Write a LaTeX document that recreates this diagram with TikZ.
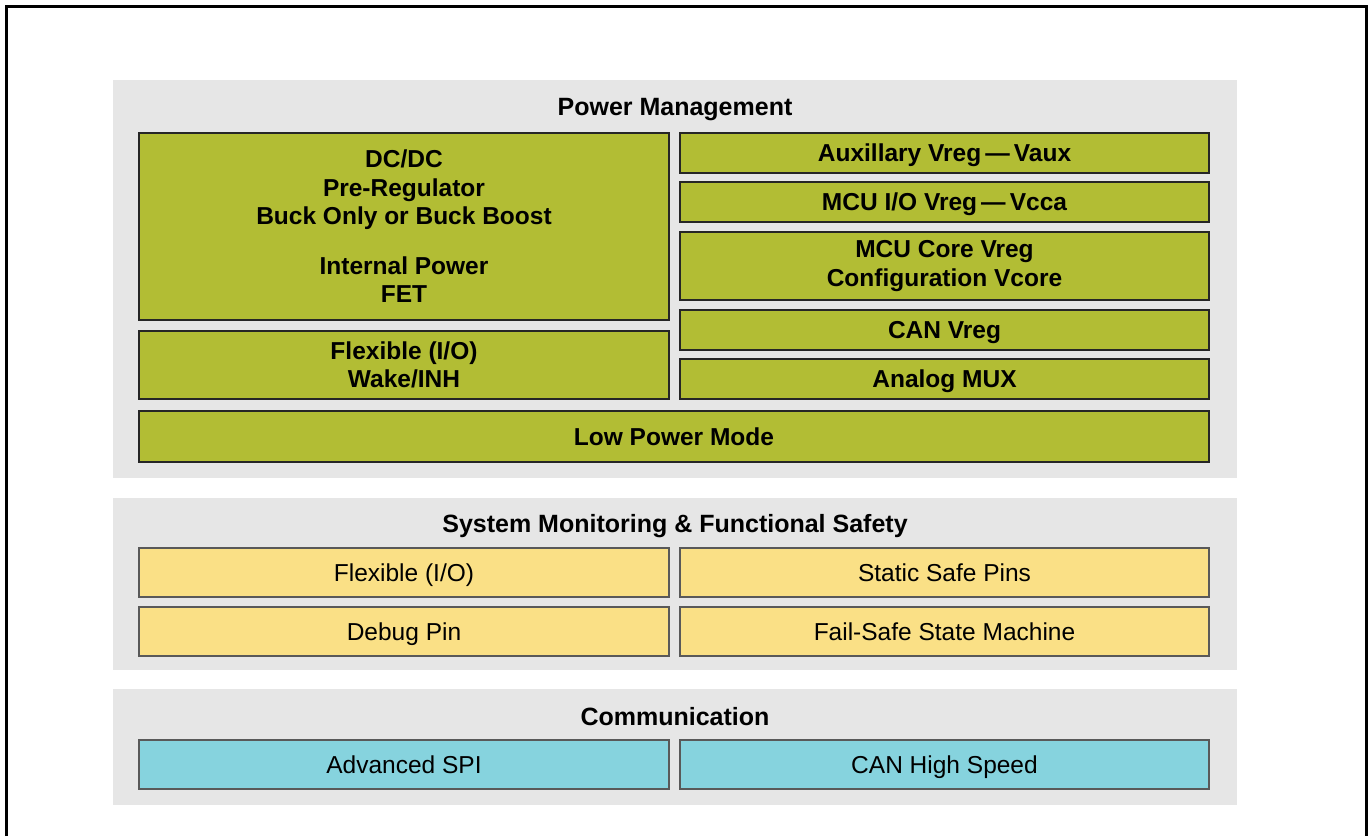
\documentclass[tikz,border=0pt]{standalone}
\usepackage{fontspec}
\setmainfont{Liberation Sans}
\definecolor{pmgreen}{RGB}{178,189,52}
\definecolor{smyellow}{RGB}{250,224,134}
\definecolor{comcyan}{RGB}{134,211,222}
\definecolor{panelgray}{RGB}{230,230,230}

\begin{document}
\begin{tikzpicture}[x=1pt,y=-1pt,
	panel/.style={fill=panelgray, draw=none, inner sep=0pt},
	paneltitle/.style={anchor=base, inner sep=0pt, font=\fontsize{25}{29}\selectfont\bfseries},
	blockbox/.style={line width=1.6pt, inner sep=0pt, align=center, font=\fontsize{24.5}{28.5}\selectfont},
	oneline/.style={text height=17.5pt, text depth=0pt},
	pmbox/.style={blockbox, draw=black!85, fill=pmgreen, font=\fontsize{24.5}{28.5}\selectfont\bfseries},
	smbox/.style={blockbox, oneline, draw=black!65, fill=smyellow},
	combox/.style={blockbox, oneline, draw=black!65, fill=comcyan}]
	\useasboundingbox (0,0) rectangle (1369,836);
	\draw[line width=3pt] (6,836) -- (6,6) -- (1366,6) -- (1366,836);
	% panels
	\node[panel, minimum width=1124pt, minimum height=398pt] (pmpanel) at (675,279) {};
	\node[panel, minimum width=1124pt, minimum height=172pt] (smpanel) at (675,584) {};
	\node[panel, minimum width=1124pt, minimum height=116pt] (companel) at (675,747) {};
	\node[paneltitle] (pmtitle) at (675,115) {Power Management};
	\node[paneltitle] (smtitle) at (675,532) {System Monitoring \& Functional Safety};
	\node[paneltitle] (comtitle) at (675,725) {Communication};
	% power management
	\node[pmbox, minimum width=530pt, minimum height=187pt] (dcdc) at (404,226.5) {DC/DC\\Pre-Regulator\\Buck Only or Buck Boost\\[21pt]Internal Power\\FET};
	\node[pmbox, minimum width=530pt, minimum height=68pt] (wake) at (404,365) {Flexible (I/O)\\Wake/INH};
	\node[pmbox, oneline, minimum width=529pt, minimum height=40pt] (vaux) at (944.5,153) {Auxillary Vreg\,—\,Vaux};
	\node[pmbox, oneline, minimum width=529pt, minimum height=40pt] (vcca) at (944.5,202) {MCU I/O Vreg\,—\,Vcca};
	\node[pmbox, minimum width=529pt, minimum height=68pt] (vcore) at (944.5,266) {MCU Core Vreg\\Configuration Vcore};
	\node[pmbox, oneline, minimum width=529pt, minimum height=40pt] (vcan) at (944.5,330) {CAN Vreg};
	\node[pmbox, oneline, minimum width=529pt, minimum height=40pt] (amux) at (944.5,379) {Analog MUX};
	\node[pmbox, oneline, minimum width=1070pt, minimum height=51pt] (lowpwr) at (674,436.5) {Low Power Mode};
	% system monitoring
	\node[smbox, minimum width=530pt, minimum height=49pt] (flexio) at (404,572.5) {Flexible (I/O)};
	\node[smbox, minimum width=530pt, minimum height=49pt] (debug) at (404,631.5) {Debug Pin};
	\node[smbox, minimum width=529pt, minimum height=49pt] (safepins) at (944.5,572.5) {Static Safe Pins};
	\node[smbox, minimum width=529pt, minimum height=49pt] (fsm) at (944.5,631.5) {Fail-Safe State Machine};
	% communication
	\node[combox, minimum width=530pt, minimum height=49pt] (spi) at (404,764.5) {Advanced SPI};
	\node[combox, minimum width=529pt, minimum height=49pt] (canhs) at (944.5,764.5) {CAN High Speed};
\end{tikzpicture}
\end{document}
